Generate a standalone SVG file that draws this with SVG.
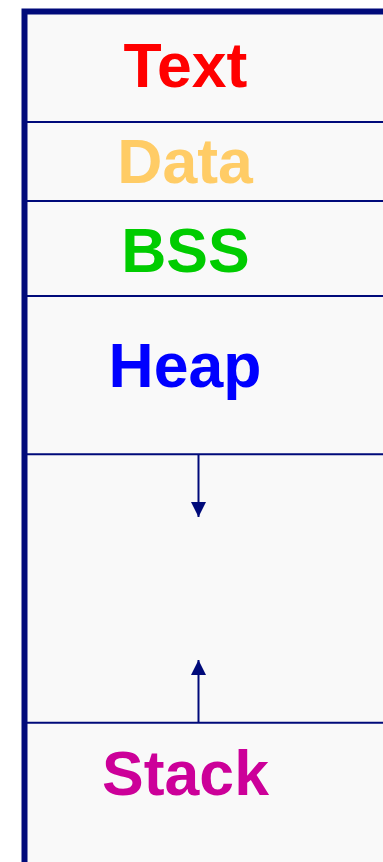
<svg xmlns="http://www.w3.org/2000/svg" width="383" height="862" viewBox="0 0 383 862">
<style>
.lbl{font-family:"Liberation Sans",Arial,sans-serif;font-weight:bold;font-size:62.5px;text-anchor:middle}
.div{stroke:#000a7a;stroke-width:2;fill:none}
.conn{stroke:#000a7a;stroke-width:2;fill:none}
</style>
<defs>
<marker id="ah" markerUnits="userSpaceOnUse" markerWidth="16" markerHeight="16" viewBox="0 0 16 16" refX="15" refY="8" orient="auto">
<path d="M0,0.5 L15,8 L0,15.5 Z" fill="#000a7a"/>
</marker>
</defs>
<rect x="0" y="0" width="383" height="862" fill="#ffffff"/>
<rect x="24.5" y="11.5" width="360" height="852" fill="#f9f9f9"/>
<g id="text-seg"><text class="lbl" x="185.5" y="87" fill="#ff0000">Text</text></g>
<g id="data-seg"><line class="div" x1="24" y1="122" x2="383" y2="122"/><text class="lbl" x="185" y="182.5" fill="#ffcc66">Data</text></g>
<g id="bss-seg"><line class="div" x1="24" y1="201" x2="383" y2="201"/><text class="lbl" x="185.5" y="272" fill="#00cc00">BSS</text></g>
<g id="heap-seg"><line class="div" x1="24" y1="296" x2="383" y2="296"/><text class="lbl" x="185" y="386.5" fill="#0000ff">Heap</text></g>
<g id="free-seg"><line class="div" x1="24" y1="454.3" x2="383" y2="454.3"/></g>
<g id="stack-seg"><line class="div" x1="24" y1="722.7" x2="383" y2="722.7"/><text class="lbl" x="185.5" y="795" fill="#cc0099">Stack</text></g>
<g id="connectors">
<line class="conn" x1="198.5" y1="455" x2="198.5" y2="517" marker-end="url(#ah)"/>
<line class="conn" x1="198.5" y1="722" x2="198.5" y2="660" marker-end="url(#ah)"/>
</g>
<g id="frame">
<path d="M24.5,862 L24.5,11.5 L383,11.5" fill="none" stroke="#000a7a" stroke-width="6"/>
</g>
</svg>
